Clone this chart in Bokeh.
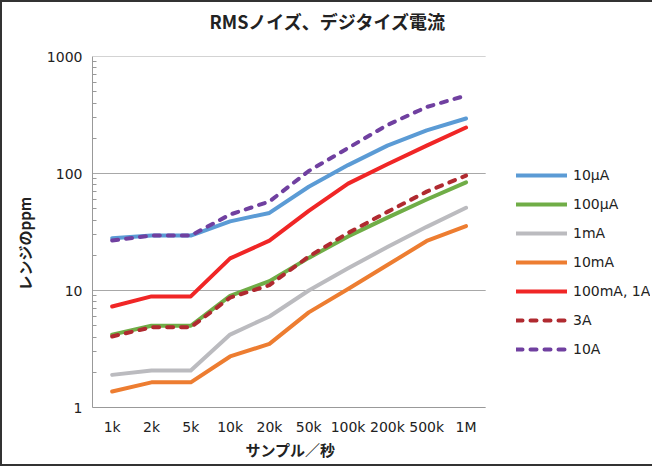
from bokeh.plotting import figure
from bokeh.models import (Range1d, FixedTicker, BasicTickFormatter, Legend,
                          LegendItem, ColumnDataSource, Title)
from bokeh.embed import file_html
from bokeh.resources import INLINE

# ---- data ----
rates = ["1k", "2k", "5k", "10k", "20k", "50k", "100k", "200k", "500k", "1M"]
i10uA = [28, 29.5, 29.5, 39, 46, 77, 118, 173, 234, 295]
i100uA = [4.2, 5.0, 5.0, 9.0, 12.0, 19, 29, 42, 60, 84]
i1mA = [1.9, 2.07, 2.07, 4.2, 6.0, 10, 15.5, 23.5, 35, 51]
i10mA = [1.37, 1.64, 1.64, 2.73, 3.5, 6.5, 10.3, 16.5, 26.5, 35.5]
i100mA = [7.3, 8.9, 8.9, 18.8, 26.7, 48, 82, 120, 173, 247]
i3A = [4.05, 4.85, 4.85, 8.7, 11.1, 19.5, 31, 47, 70, 96]
i10A = [26.7, 29.5, 29.5, 44.6, 57.6, 105, 165, 260, 370, 464]

series_names = ["10μA", "100μA", "1mA", "10mA", "100mA, 1A", "3A", "10A"]
series_values = [i10uA, i100uA, i1mA, i10mA, i100mA, i3A, i10A]
series_colors = ["#5B9BD5", "#70AD47", "#BBBBBF", "#ED7D31", "#F02626", "#B02A30", "#7040A0"]
series_dash = ["solid", "solid", "solid", "solid", "solid", "6 8", "6 8"]

title_text = "RMSノイズ、デジタイズ電流"
x_title = "サンプル／秒"
y_title = "レンジのppm"
y_ticks = [1, 10, 100, 1000]
y_minor = [m * d for d in (1, 10, 100) for m in range(2, 10)]

CJK = "Noto Sans CJK JP"
LAT = "DejaVu Sans"
TXT = "#222222"

n = len(rates)
x_pos = [i + 0.5 for i in range(n)]          # category centres
frame_w = 562
cat_px = 39.6                                   # pixel width of one category slot
x_end = frame_w / cat_px                        # extra room on the right holds the legend

p = figure(width=652, height=466, x_range=Range1d(0, x_end),
           y_range=(1, 1000), y_axis_type="log", output_backend="svg",
           toolbar_location=None, min_border_left=86, min_border_right=4,
           min_border_top=54, min_border_bottom=61)
p.styles = {"border-left": "2px solid #333333", "border-top": "2px solid #333333",
            "border-bottom": "2px solid #333333"}
p.outline_line_color = None
p.background_fill_color = "white"
p.border_fill_color = "white"

# gap between frame and chart title (first "above" title sits next to the frame)
p.add_layout(Title(text=" ", standoff=18, text_font_size="1px"), "above")
p.add_layout(Title(text=title_text, align="left", offset=117, vertical_align="bottom",
                   standoff=4, text_font=CJK, text_font_style="bold",
                   text_font_size="18px", text_color=TXT), "above")

# y axis
p.yaxis.ticker = FixedTicker(ticks=y_ticks, minor_ticks=y_minor)
p.yaxis.formatter = BasicTickFormatter()
p.yaxis.major_tick_out = 0
p.yaxis.major_tick_in = 0
p.yaxis.minor_tick_in = 4
p.yaxis.minor_tick_out = 0
p.yaxis.minor_tick_line_color = "#999999"
p.yaxis.axis_line_color = "#999999"
p.yaxis.major_label_standoff = 10
p.yaxis.major_label_text_font = LAT
p.yaxis.major_label_text_font_size = "14px"
p.yaxis.major_label_text_color = TXT

# x axis (category labels)
p.xaxis.ticker = FixedTicker(ticks=x_pos, minor_ticks=[])
p.xaxis.major_label_overrides = {x: lab for x, lab in zip(x_pos, rates)}
p.xaxis.bounds = (0, n)
p.xaxis.major_tick_out = 0
p.xaxis.major_tick_in = 0
p.xaxis.minor_tick_out = 0
p.xaxis.minor_tick_in = 0
p.xaxis.axis_line_color = "#999999"
p.xaxis.major_label_standoff = 11
p.xaxis.major_label_text_font = LAT
p.xaxis.major_label_text_font_size = "14px"
p.xaxis.major_label_text_color = TXT

# axis titles, placed over the category area rather than the whole frame
p.add_layout(Title(text=x_title, align="left", offset=153, vertical_align="top",
                   standoff=2, text_font=CJK, text_font_style="bold",
                   text_font_size="15px", text_color=TXT), "below")
p.add_layout(Title(text=y_title, align="left", offset=117, vertical_align="bottom",
                   standoff=18, text_font=CJK, text_font_style="bold",
                   text_font_size="15px", text_color=TXT), "left")

p.xgrid.grid_line_color = None
p.ygrid.grid_line_color = None
# horizontal gridlines limited to the category area
p.segment(x0=[0] * len(y_ticks), x1=[n] * len(y_ticks), y0=y_ticks, y1=y_ticks,
          line_color="#A8A8A8", line_width=1)

items = []
for name, vals, col, dash in zip(series_names, series_values, series_colors, series_dash):
    src = ColumnDataSource(dict(x=x_pos, y=vals))
    r = p.line("x", "y", source=src, line_color=col, line_width=4,
               line_dash=dash, line_cap="round", line_join="round")
    items.append(LegendItem(label=name, renderers=[r]))

legend = Legend(items=items, location=(424, 48), orientation="vertical",
                glyph_width=51, glyph_height=20, label_height=20, spacing=9,
                label_standoff=6, padding=0, margin=0,
                border_line_color=None, background_fill_alpha=0,
                label_text_font=LAT, label_text_font_size="14px",
                label_text_color=TXT)
p.add_layout(legend)

open("out.html", "w").write(file_html(p, INLINE))
